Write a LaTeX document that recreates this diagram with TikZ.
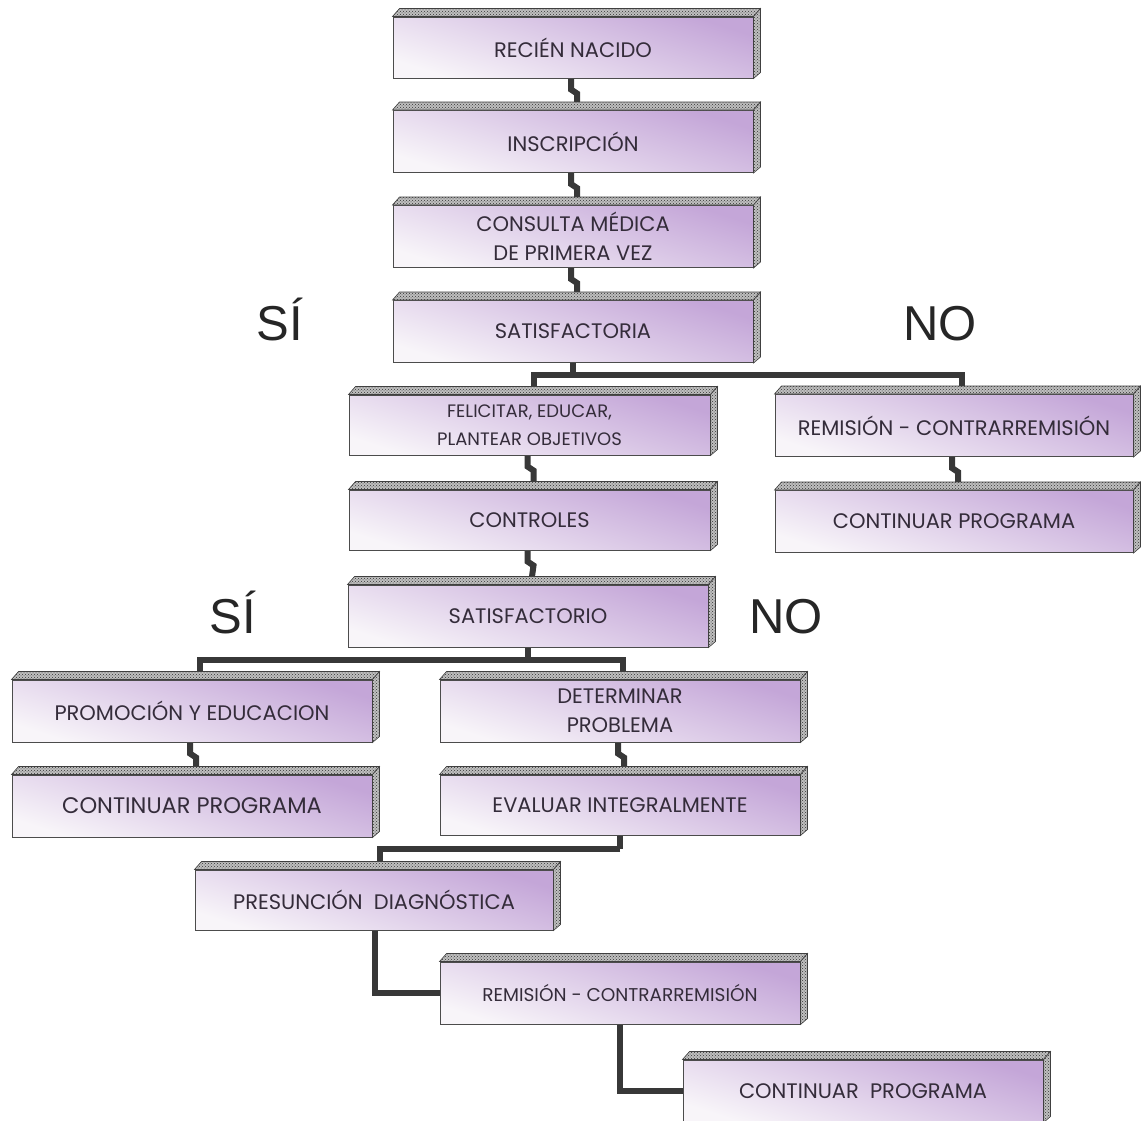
\documentclass[tikz,border=0pt]{standalone}
\usepackage{fontspec}
\setmainfont{Poppins}
\newfontfamily\labfont{Liberation Sans}
\usetikzlibrary{patterns}
\pgfdeclarelayer{background}
\pgfsetlayers{background,main}
\definecolor{purA}{HTML}{C4A6D8}
\definecolor{purB}{HTML}{F8F5F9}
\definecolor{lineC}{HTML}{383838}
\definecolor{txtC}{HTML}{342C3A}
\tikzset{
  caja/.style={draw=black!70, line width=1pt, top color=purA, bottom color=purB,
    shading angle=-18, minimum width=360pt, minimum height=62pt, inner sep=2pt,
    align=center, font=\fontsize{21}{29}\selectfont, text=txtC},
  conn/.style={draw=lineC, line width=6pt},
  tapa/.style={preaction={fill=gray!50}, pattern=crosshatch dots, pattern color=black!80,
    draw=black!75, line width=0.6pt},
  lab/.style={font=\labfont\fontsize{49}{50}\selectfont, text=black!85, inner sep=0pt, anchor=base}
}
\newcommand\extrude[1]{%
  \path[tapa] (#1.north west) -- ++(7,-8) -- ([xshift=7pt,yshift=8pt]#1.north east)
     -- (#1.north east) -- cycle;
  \path[tapa] (#1.north east) -- ++(7,-8) -- ([xshift=7pt,yshift=6pt]#1.south east)
     -- (#1.south east) -- cycle;}
\newcommand\zig[2]{%
  \draw[conn] ([xshift=-2pt]#1.south) -- ++(0,11) -- ++(6,4) -- ([xshift=4pt,yshift=8pt]#2.north);}
\begin{document}
\begin{tikzpicture}[x=1pt,y=-1pt]
\useasboundingbox (0,0) rectangle (1141,1120);

\node[caja, minimum height=61pt] (n1) at (573,47.5) {RECIÉN NACIDO};
\node[caja] (n2) at (573,141.5) {INSCRIPCIÓN};
\node[caja] (n3) at (573,236.5) {CONSULTA MÉDICA\\DE PRIMERA VEZ};
\node[caja] (n4) at (573,331.5) {SATISFACTORIA};
\node[caja, minimum width=361pt, minimum height=60pt, font=\fontsize{18}{28}\selectfont] (n5) at (529.5,425) {FELICITAR, EDUCAR,\\PLANTEAR OBJETIVOS};
\node[caja, minimum width=358pt] (n6) at (954,425.5) {REMISIÓN - CONTRARREMISIÓN};
\node[caja, minimum width=358pt] (n7) at (954,521.5) {CONTINUAR PROGRAMA};
\node[caja, minimum width=361pt, minimum height=60pt] (n8) at (529.5,520) {CONTROLES};
\node[caja] (n9) at (528,616) {SATISFACTORIO};
\node[caja] (n10) at (192,711) {PROMOCIÓN Y EDUCACION};
\node[caja, font=\fontsize{22.5}{29}\selectfont] (n11) at (192,806) {CONTINUAR PROGRAMA};
\node[caja] (n12) at (620,711) {DETERMINAR\\PROBLEMA};
\node[caja, minimum height=60pt] (n13) at (620,805) {EVALUAR INTEGRALMENTE};
\node[caja, minimum width=358pt, minimum height=60pt] (n14) at (374,900) {PRESUNCIÓN\ \ DIAGNÓSTICA};
\node[caja, font=\fontsize{18.5}{29}\selectfont] (n15) at (620,993) {REMISIÓN - CONTRARREMISIÓN};
\node[caja] (n16) at (863,1091) {CONTINUAR\ \ PROGRAMA};

\foreach \n in {n1,n2,n3,n4,n5,n6,n7,n8,n9,n10,n11,n12,n13,n14,n15,n16} {\extrude{\n}}

\node[lab] (si1) at (280,340) {SÍ};
\node[lab] (no1) at (940,340) {NO};
\node[lab] (si2) at (233,633) {SÍ};
\node[lab] (no2) at (786,633) {NO};

\begin{pgfonlayer}{background}
\fill[white] (0,0) rectangle (1141,1120);
\zig{n1}{n2}
\zig{n2}{n3}
\zig{n3}{n4}
\zig{n5}{n8}
\zig{n8}{n9}
\zig{n6}{n7}
\zig{n10}{n11}
\zig{n12}{n13}
\draw[conn] (n4.south) -- ++(0,12) coordinate (b1);
\draw[conn] ([xshift=4pt,yshift=8pt]n5.north) |- (b1) -| ([xshift=8pt,yshift=8pt]n6.north);
\draw[conn] (n9.south) -- ++(0,12) coordinate (b2);
\draw[conn] ([xshift=8pt,yshift=8pt]n10.north) |- (b2) -| ([xshift=3pt,yshift=8pt]n12.north);
\draw[conn] (n13.south) -- ++(0,13) coordinate (b3);
\draw[conn] (b3) -| ([xshift=6pt,yshift=8pt]n14.north);
\draw[conn] ([xshift=1pt]n14.south) |- (n15.west);
\draw[conn] (n15.south) |- (n16.west);
\end{pgfonlayer}
\end{tikzpicture}
\end{document}
